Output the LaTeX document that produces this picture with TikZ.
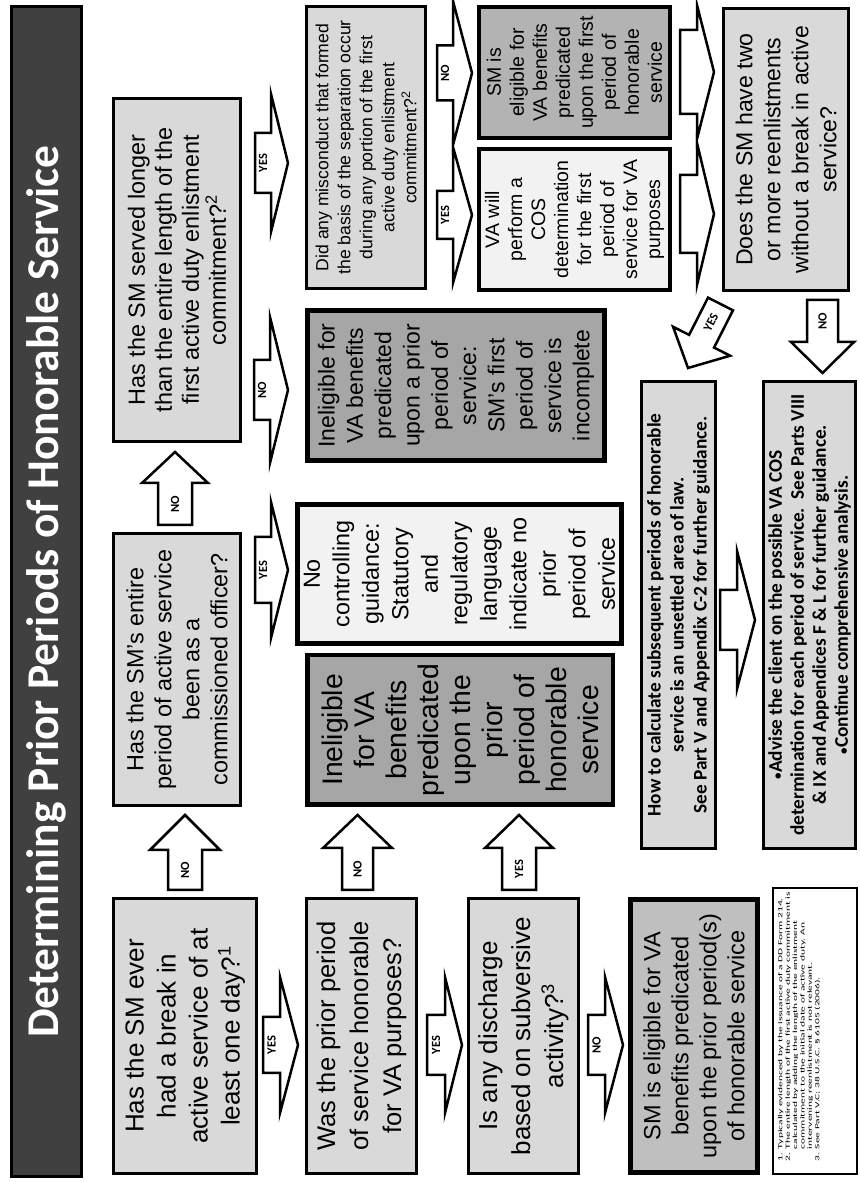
\documentclass[tikz,border=0pt]{standalone}
\usepackage{fontspec}
\setmainfont{Liberation Sans}
\newfontfamily\calfont{Carlito}
\newfontfamily\fnfont[FakeStretch=1.82]{Carlito}
\usetikzlibrary{calc}
\definecolor{lgray}{HTML}{D9D9D9}
\definecolor{mgray}{HTML}{A6A6A6}
\definecolor{fgray}{HTML}{B3B3B3}
\definecolor{ogray}{HTML}{BFBFBF}
\definecolor{wgray}{HTML}{F2F2F2}
\definecolor{tgray}{HTML}{404040}
\newcommand{\fsz}[2]{\fontsize{#1}{#2}\selectfont}
\newcommand{\smbul}{{\fontsize{13}{13}\selectfont •}}
\tikzset{
  box/.style={draw=black, fill=lgray, line width=3pt, align=center, inner sep=0pt, text=black},
  darkbox/.style={box, fill=mgray, line width=5pt},
  palebox/.style={box, fill=wgray, line width=5pt},
  barrowpath/.style={draw=black, fill=white, line width=2.5pt, line join=miter},
  alabel/.style={font=\calfont\bfseries\fsz{12.5}{14}, inner sep=0pt},
}
% block arrow: tail, tip, shaft half width, head half width, head length, label options, label
\newcommand{\barrow}[7]{%
  \coordinate (ba) at #1;
  \coordinate (bz) at #2;
  \coordinate (bb) at ($(bz)!#5!(ba)$);
  \draw[barrowpath] ($(ba)!#3!90:(bz)$) -- ($(bb)!#3!90:(bz)$) -- ($(bb)!#4!90:(bz)$)
     -- (bz) -- ($(bb)!#4!-90:(bz)$) -- ($(bb)!#3!-90:(bz)$) -- ($(ba)!#3!-90:(bz)$) -- cycle;
  \node[alabel,#6] at ($(ba)!0.5!(bb)$) {#7};
}
\begin{document}
\begin{tikzpicture}
\begin{scope}[x=1pt,y=-1pt,rotate=90,transform shape]
\useasboundingbox (0,0) rectangle (1182,859);
% title
\node[draw=black, line width=2.5pt, fill=tgray, minimum width=1170pt, minimum height=70pt,
      inner sep=0pt, text=white, font=\calfont\bfseries\fsz{45.5}{54}] (T) at (590.5,46.5)
      {Determining Prior Periods of Honorable Service};
% row 1
\node[box, minimum width=275pt, minimum height=143pt, font=\fsz{26}{32}] (A) at (146,185)
  {Has the SM ever\\had a break in\\active service of at\\least one day?\textsuperscript{1}};
\node[box, minimum width=272pt, minimum height=127pt, font=\fsz{23.4}{28}] (B) at (512.5,177)
  {Has the SM's entire\\period of active service\\been as a\\commissioned officer?};
\node[box, minimum width=343pt, minimum height=127pt, font=\fsz{23.4}{27}] (C) at (912,177)
  {Has the SM served longer\\than the entire length of the\\first active duty enlistment\\commitment?\textsuperscript{2}};
% row 2
\node[box, minimum width=275pt, minimum height=110pt, font=\fsz{25.5}{33}] (M) at (146,361.5)
  {Was the prior period\\of service honorable\\for VA purposes?};
\node[darkbox, line width=4.5pt, minimum width=149.5pt, minimum height=305.5pt, font=\fsz{28.3}{32}] (L) at (452,460)
  {Ineligible\\for VA\\benefits\\predicated\\upon the\\prior\\period of\\honorable\\service};
\node[palebox, minimum width=139pt, minimum height=324pt, font=\fsz{23.3}{29.5}] (K) at (608,459.5)
  {No\\controlling\\guidance:\\Statutory\\and\\regulatory\\language\\indicate no\\prior\\period of\\service};
\node[darkbox, minimum width=150pt, minimum height=297pt, font=\fsz{23}{28.3}] (E) at (796.5,456)
  {Ineligible for\\VA benefits\\predicated\\upon a prior\\period of\\service:\\SM's first\\period of\\service is\\incomplete};
\node[box, minimum width=282pt, minimum height=119pt, font=\fsz{17.6}{22}] (D) at (1034.5,366)
  {Did any misconduct that formed\\the basis of the separation occur\\during any portion of the first\\active duty enlistment\\commitment?\textsuperscript{2}};
% row 3
\node[box, minimum width=275pt, minimum height=110pt, font=\fsz{26}{33}] (N) at (146,523.5)
  {Is any discharge\\based on subversive\\activity?\textsuperscript{3}};
\node[box, fill=wgray, line width=4pt, minimum width=141pt, minimum height=191pt, font=\fsz{19.5}{23}] (G) at (962.5,574.5)
  {VA will\\perform a\\COS\\determination\\for the first\\period of\\service for VA\\purposes};
\node[box, fill=fgray, line width=4pt, minimum width=131pt, minimum height=191pt, font=\fsz{19.5}{23}] (F) at (1109.5,574.5)
  {SM is\\eligible for\\VA benefits\\predicated\\upon the first\\period of\\honorable\\service};
% row 4
\node[box, fill=ogray, line width=5pt, minimum width=273pt, minimum height=127pt, font=\fsz{23.5}{28}] (O) at (146,694)
  {SM is eligible for VA\\benefits predicated\\upon the prior period(s)\\of honorable service};
\node[box, minimum width=467pt, minimum height=74pt, font=\calfont\bfseries\fsz{19.3}{23}] (I) at (567,678.5)
  {How to calculate subsequent periods of honorable\\service is an unsettled area of law.\\See Part V and Appendix C-2 for further guidance.};
\node[box, minimum width=282pt, minimum height=125pt, font=\fsz{23.1}{28}] (H) at (1032.5,786)
  {Does the SM have two\\or more reenlistments\\without a break in active\\service?};
% row 5
\node[box, fill=white, line width=2pt, minimum width=286pt, minimum height=84pt] (P) at (151,815) {};
\node[anchor=north west, inner sep=0pt, align=left, font=\fnfont\fsz{6.3}{7.4}] (fn) at ($(P.north west)+(13,5)$)
  {\begin{tabular}{@{}l@{\hspace{4pt}}l@{}}
   1. & Typically evidenced by the issuance of a DD Form 214.\\
   2. & The entire length of the first active duty commitment is\\
      & calculated by adding the length of the enlistment\\
      & commitment to the initial date of active duty. An\\
      & intervening reenlistment is not relevant.\\
   3. & See Part V.C; 38 U.S.C. \S\ 6105 (2006).
   \end{tabular}};
\node[box, minimum width=467pt, minimum height=92pt, font=\calfont\bfseries\fsz{19.3}{22}] (J) at (567,809.5)
  {\smbul Advise the client on the possible VA COS\\determination for each period of service.\ \ See Parts VIII\\\& IX and Appendices F \& L for further guidance.\\\smbul Continue comprehensive analysis.};
% arrows
\barrow{($(A.east)+(7,0)$)}{($(B.west)+(-8,8)$)}{17pt}{35pt}{35pt}{}{NO}
\barrow{($(B.east)+(7,-2)$)}{($(C.west)+(-9,-2)$)}{17pt}{33pt}{31pt}{}{NO}
\barrow{($(C.south)+(107,13)$)}{($(D.north)+(-15.5,-17)$)}{30pt}{69pt}{17pt}{}{YES}
\barrow{($(C.south)+(-120,12)$)}{($(E.north)+(-4.5,-17)$)}{30pt}{73pt}{18pt}{}{NO}
\barrow{($(B.south)+(99.5,13)$)}{($(K.north)+(4,-7)$)}{33pt}{68pt}{17pt}{}{YES}
\barrow{($(A.south)+(-9,5)$)}{($(M.north)+(-9,-7)$)}{28pt}{68pt}{18pt}{}{YES}
\barrow{($(M.east)+(7,-4)$)}{($(L.west)+(-8,-102.5)$)}{15.5pt}{34.5pt}{33pt}{}{NO}
\barrow{($(M.south)+(-9,9)$)}{($(N.north)+(-9,-5)$)}{30pt}{68pt}{17pt}{}{YES}
\barrow{($(N.east)+(7,-4.5)$)}{($(L.west)+(-8,59)$)}{17pt}{34pt}{33pt}{}{YES}
\barrow{($(N.south)+(-9,8)$)}{($(O.north)+(-9,-5)$)}{30pt}{68pt}{18pt}{}{NO}
\barrow{($(D.south)+(74.5,10)$)}{($(F.north)+(-0.5,-5)$)}{27.5pt}{72pt}{19pt}{}{NO}
\barrow{($(D.south)+(-67.5,10)$)}{($(G.north)+(4.5,-5)$)}{24pt}{68pt}{19pt}{}{YES}
\barrow{($(F.south)+(0.5,8)$)}{($(H.north)+(77.5,-8)$)}{42pt}{67pt}{17pt}{}{}
\barrow{($(G.south)+(5.5,8)$)}{($(H.north)+(-64.5,-8)$)}{39pt}{71pt}{17pt}{}{}
\barrow{($(I.south)+(-5,3)$)}{($(J.north)+(-5,-7)$)}{30pt}{69pt}{18pt}{}{}
\barrow{($(H.west)+(-8,36.5)$)}{($(J.east)+(7,13)$)}{15.5pt}{31.5pt}{31pt}{}{NO}
\barrow{($(H.west)+(-12,-65.5)$)}{($(I.east)+(12,9.5)$)}{14pt}{32pt}{30pt}{rotate=-27}{YES}
\end{scope}
\end{tikzpicture}
\end{document}
